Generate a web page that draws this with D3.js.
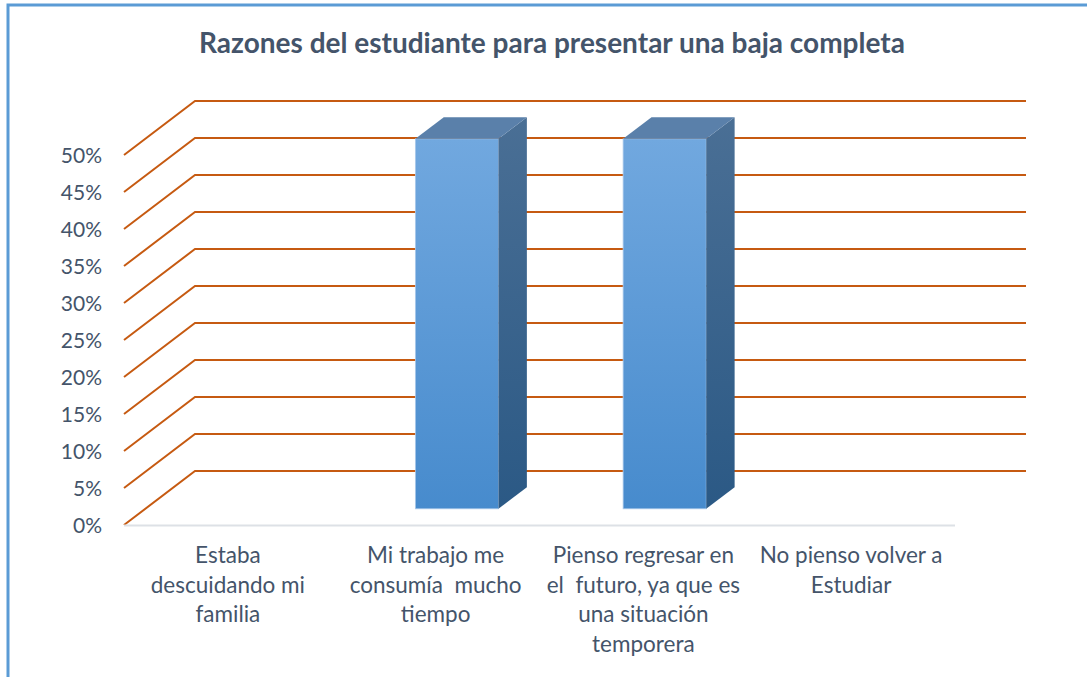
<!DOCTYPE html>
<html>
<head>
<meta charset="utf-8">
<script src="https://cdn.jsdelivr.net/npm/d3@7"></script>
<style>
  html, body { margin: 0; padding: 0; background: #fff; }
  svg { display: block; font-family: Lato, "Open Sans", sans-serif; }
  .axis-label { fill: #44546a; font-size: 21px; }
  .cat-label { fill: #44546a; font-size: 22.5px; }
  .title { fill: #44546a; font-size: 28px; font-weight: bold; }
</style>
</head>
<body>
<svg id="chart" width="1087" height="677"></svg>
<script>
// chart data
const categories = [
  "Estaba descuidando mi familia",
  "Mi trabajo me consumía  mucho tiempo",
  "Pienso regresar en el  futuro, ya que es una situación temporera",
  "No pienso volver a Estudiar",
];
// wrapped labels as they show under the axis
const categoryLines = [
  ["Estaba", "descuidando mi", "familia"],
  ["Mi trabajo me", "consumía  mucho", "tiempo"],
  ["Pienso regresar en", "el  futuro, ya que es", "una situación", "temporera"],
  ["No pienso volver a", "Estudiar"],
];
const values = [0, 0.5, 0.5, 0];
const yTicks = [0, 0.05, 0.1, 0.15, 0.2, 0.25, 0.3, 0.35, 0.4, 0.45, 0.5];
const titleText = "Razones del estudiante para presentar una baja completa";

const svg = d3.select("#chart");
const W = 1087, H = 677;

// 3D look: the back wall is shifted by (DX, DY) from the front plane
const DX = 71, DY = -54;
const BAR_FRONT = 0.3, BAR_BACK = 0.7;   // bar depth, as a share of the floor
const BAR_W = 0.4;                       // bar width, share of the band

const x = d3.scaleBand().domain(categories).range([124, 955]).padding(0);
const y = d3.scaleLinear().domain([0, 0.5]).range([525, 155]);
const fmt = d3.format(".0%");

// outer frame (only left + top edges are visible in the picture)
svg.append("rect")
  .attr("x", 8).attr("y", 5).attr("width", W + 200).attr("height", H + 200)
  .attr("fill", "none").attr("stroke", "#5b9bd5").attr("stroke-width", 3);

svg.append("text").attr("class", "title")
  .attr("x", 552).attr("y", 53).attr("text-anchor", "middle")
  .text(titleText);

// gradients for the bar faces
const defs = svg.append("defs");
function vGrad(id, top, bottom) {
  const g = defs.append("linearGradient").attr("id", id)
    .attr("x1", 0).attr("x2", 0).attr("y1", 0).attr("y2", 1);
  g.append("stop").attr("offset", "0%").attr("stop-color", top);
  g.append("stop").attr("offset", "100%").attr("stop-color", bottom);
}
vGrad("g-front", "#71a8df", "#478bcd");
vGrad("g-side", "#4a6f95", "#2b5985");

const [x0] = x.range();
const xEnd = x.range()[1];

// gridlines: diagonal on the left side wall, then across the back wall
const grid = svg.append("g").attr("class", "grid");
grid.selectAll("path")
  .data(yTicks)
  .enter().append("path")
    .attr("d", (t) => {
      const yf = y(t);
      return `M${x0},${yf} L${x0 + DX},${yf + DY} L${xEnd + DX},${yf + DY}`;
    })
    .attr("fill", "none")
    .attr("stroke", "#c65a11")
    .attr("stroke-width", 2);

// floor front edge
svg.append("line")
  .attr("x1", x0).attr("x2", xEnd)
  .attr("y1", y(0) + 0.5).attr("y2", y(0) + 0.5)
  .attr("stroke", "#dde1e6").attr("stroke-width", 2);

// y axis labels
svg.append("g").selectAll("text")
  .data(yTicks)
  .enter().append("text")
    .attr("class", "axis-label")
    .attr("x", 102)
    .attr("y", (t) => y(t) + 8)
    .attr("text-anchor", "end")
    .text((t) => fmt(t));

// bars: front, side, top
const bars = svg.append("g").attr("class", "bars")
  .selectAll("g")
  .data(categories.map((c, i) => ({ cat: c, v: values[i] })).filter((d) => d.v > 0))
  .enter().append("g");

bars.each(function (d) {
  const g = d3.select(this);
  const bw = x.bandwidth() * BAR_W;
  const fx = x(d.cat) + (x.bandwidth() - bw) / 2 + DX * BAR_FRONT;
  const fy0 = y(0) + DY * BAR_FRONT;
  const fy1 = y(d.v) + DY * BAR_FRONT;
  const ddx = DX * (BAR_BACK - BAR_FRONT), ddy = DY * (BAR_BACK - BAR_FRONT);

  g.append("rect")
    .attr("x", fx).attr("y", fy1).attr("width", bw).attr("height", fy0 - fy1)
    .attr("fill", "url(#g-front)")
    .attr("stroke", "#a9c8ea").attr("stroke-width", 0.8);
  g.append("path")
    .attr("d", `M${fx + bw},${fy1} L${fx + bw + ddx},${fy1 + ddy} L${fx + bw + ddx},${fy0 + ddy} L${fx + bw},${fy0} Z`)
    .attr("fill", "url(#g-side)");
  g.append("path")
    .attr("d", `M${fx},${fy1} L${fx + ddx},${fy1 + ddy} L${fx + bw + ddx},${fy1 + ddy} L${fx + bw},${fy1} Z`)
    .attr("fill", "#5a80aa");
});

// category labels
const cats = svg.append("g").selectAll("text")
  .data(categories)
  .enter().append("text")
    .attr("class", "cat-label")
    .attr("text-anchor", "middle")
    .attr("x", (c) => x(c) + x.bandwidth() / 2)
    .attr("y", 563);
cats.selectAll("tspan")
  .data((c, i) => categoryLines[i])
  .enter().append("tspan")
    .attr("x", function () { return d3.select(this.parentNode).attr("x"); })
    .attr("dy", (_, i) => i === 0 ? 0 : 29.5)
    .style("white-space", "pre")
    .text((s) => s);
</script>
</body>
</html>
